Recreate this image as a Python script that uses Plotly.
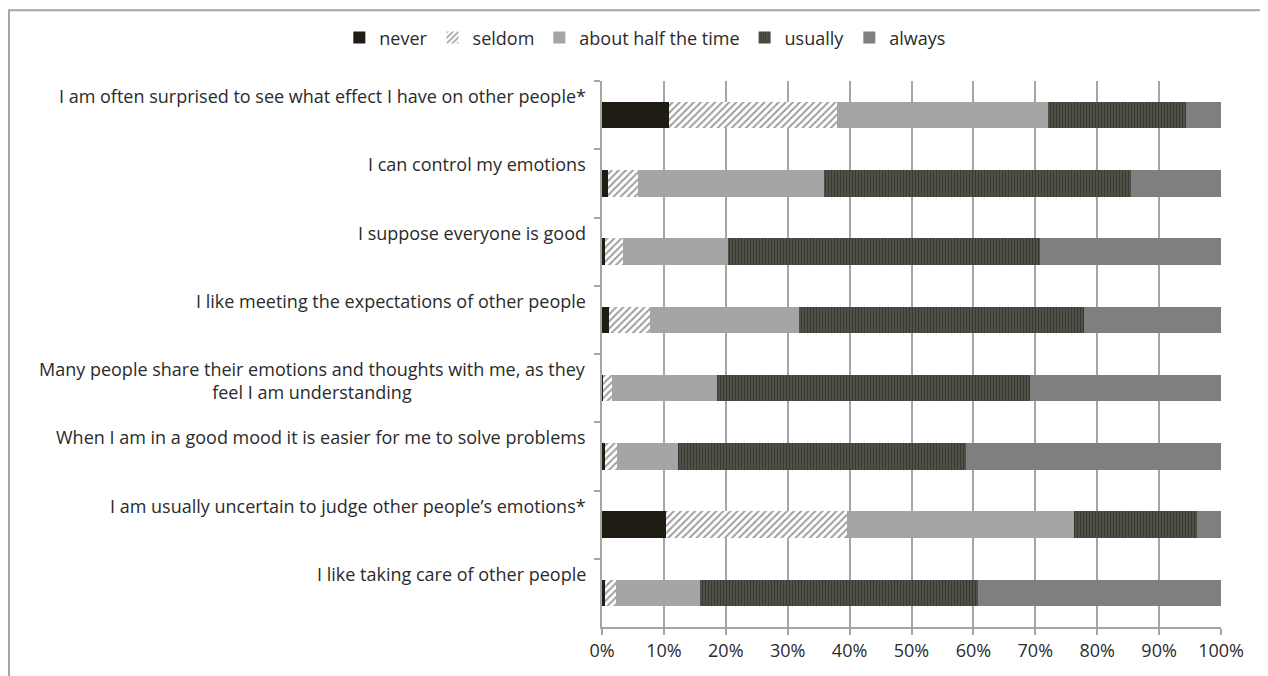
import plotly.graph_objects as go

categories = [
    "I am often surprised to see what effect I have on other people*",
    "I can control my emotions",
    "I suppose everyone is good",
    "I like meeting the expectations of other people",
    "Many people share their emotions and thoughts with me, as they<br>feel I am understanding",
    "When I am in a good mood it is easier for me to solve problems",
    "I am usually uncertain to judge other people\u2019s emotions*",
    "I like taking care of other people",
]
series_names = ["never", "seldom", "about half the time", "usually", "always"]
never = [10.9, 1.0, 0.5, 1.2, 0.2, 0.5, 10.4, 0.5]
seldom = [27.1, 4.8, 2.9, 6.6, 1.4, 1.9, 29.2, 1.7]
half = [34.1, 30.1, 17.0, 24.0, 17.0, 9.8, 36.7, 13.7]
usually = [22.3, 49.5, 50.3, 46.1, 50.6, 46.6, 19.8, 44.8]
always = [5.6, 14.6, 29.3, 22.1, 30.8, 41.2, 3.9, 39.3]
x_ticks = [0, 10, 20, 30, 40, 50, 60, 70, 80, 90, 100]
x_tick_labels = [f"{v}%" for v in x_ticks]

FONT = "Open Sans"
FS = 18
TXT = "#2b2b2b"

styles = [
    dict(color="#1f1c14"),
    dict(color="#ffffff", pattern=dict(shape="/", fgcolor="#3a3a3a", bgcolor="#ffffff", size=5, solidity=0.4)),
    dict(color="#a5a5a5"),
    dict(color="#3a3a32", pattern=dict(shape="|", fgcolor="#151510", bgcolor="#5e5e56", size=3, solidity=0.6)),
    dict(color="#7f7f7f"),
]
values = [never, seldom, half, usually, always]

fig = go.Figure()
for name, vals, st in zip(series_names, values, styles):
    fig.add_trace(go.Bar(
        y=categories, x=vals, name=name, orientation="h",
        marker=dict(line=dict(width=0), **st),
        width=0.39,
    ))

annotations = []
for c in categories:
    two = "<br>" in c
    annotations.append(dict(
        x=0, xref="paper", y=c, yref="y", text=c, showarrow=False,
        xanchor="right", yanchor="middle", xshift=-14, yshift=8 if two else 19,
        align="center", font=dict(family=FONT, size=FS, color=TXT),
    ))

L, R, T, B = 594, 55, 72, 57
PW, PH = 1268 - L - R, 676 - T - B

fig.update_layout(
    barmode="stack",
    width=1268, height=676,
    margin=dict(l=L, r=R, t=T, b=B),
    paper_bgcolor="white", plot_bgcolor="white",
    font=dict(family=FONT, size=FS, color=TXT),
    legend=dict(orientation="h", x=0.07, xanchor="center", y=1.077, yanchor="middle",
                xref="paper", traceorder="normal",
                font=dict(family=FONT, size=FS, color=TXT),
                itemwidth=30, bgcolor="rgba(0,0,0,0)"),
    annotations=annotations,
    shapes=[dict(type="rect", xref="paper", yref="paper",
                 x0=(1 - L) / PW, x1=(1258 - L) / PW,
                 y0=(T + PH - 720) / PH, y1=(T + PH - 1) / PH,
                 line=dict(color="#a6a6a6", width=2), fillcolor="rgba(0,0,0,0)", layer="below")],
)
fig.update_xaxes(range=[0, 100], tickvals=x_ticks, ticktext=x_tick_labels,
                 showgrid=True, gridcolor="#a6a6a6", gridwidth=2,
                 showline=True, linecolor="#a6a6a6", linewidth=2,
                 ticks="outside", ticklen=6, tickcolor="#a6a6a6", tickwidth=2,
                 tickfont=dict(family=FONT, size=FS, color=TXT), zeroline=False)
fig.update_yaxes(autorange="reversed", showticklabels=False,
                 showline=True, linecolor="#a6a6a6", linewidth=2,
                 ticks="outside", ticklen=6, tickcolor="#a6a6a6", tickwidth=2,
                 tickson="boundaries", showgrid=False)

fig.write_html("out.html")
